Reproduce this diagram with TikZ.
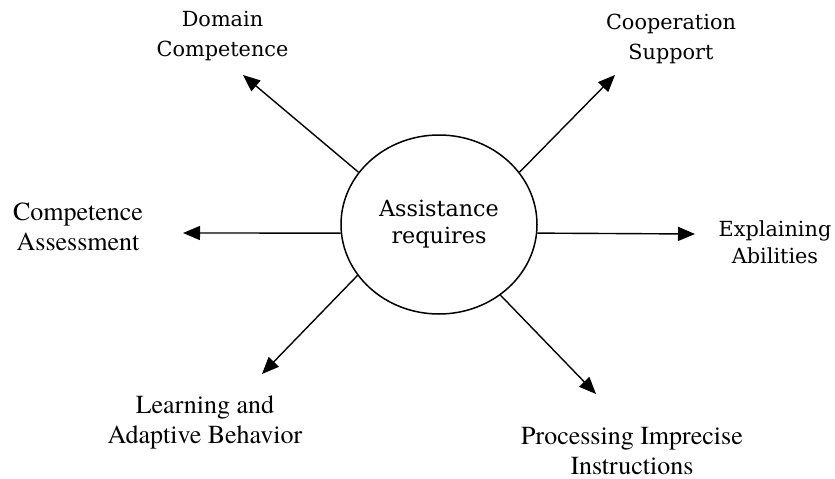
\documentclass[tikz,border=0pt]{standalone}
\usepackage{fontspec}
\newfontfamily\timesfont{texgyretermes-regular.otf}
\newfontfamily\slabfont{DejaVu Serif}
\usetikzlibrary{arrows.meta,shapes.geometric}
\begin{document}
\begin{tikzpicture}[x=1pt,y=-1pt,
  hub/.style={draw, ellipse, line width=1.5pt, inner sep=0pt,
    minimum width=196pt, minimum height=179pt, align=center,
    font=\slabfont\fontsize{22.3}{27}\selectfont},
  ray/.style={line width=1.4pt, -{Triangle[length=17pt,width=14pt]}},
  booklabel/.style={align=center, anchor=base, inner sep=0pt,
    font=\slabfont\fontsize{20.8}{30}\selectfont},
  timeslabel/.style={align=center, anchor=base, inner sep=0pt,
    font=\timesfont\fontsize{26}{30}\selectfont}]
  \fill[white] (0,0) rectangle (835,479);
  \useasboundingbox (0,0) rectangle (835,479);

  % central requirement
  \node[hub] (hub) at (439,224.5) {Assistance\\requires};

  % arrow tips
  \coordinate (domTip)  at (243,75);
  \coordinate (coopTip) at (615,75);
  \coordinate (compTip) at (183,233);
  \coordinate (explTip) at (695,234);
  \coordinate (learnTip) at (262,374);
  \coordinate (procTip) at (596,394);

  % labels (anchored on the last line's baseline)
  \node[booklabel] (dom)  at (222.5,56) {Domain\\Competence};
  \node[booklabel] (coop) at (671,59)   {Cooperation\\Support};
  \node[booklabel, font=\slabfont\fontsize{20.8}{27}\selectfont] (expl) at (775,263) {Explaining\\Abilities};
  \node[timeslabel] (comp)  at (78,250)  {Competence\\Assessment};
  \node[timeslabel] (learn) at (205,443) {Learning and\\Adaptive Behavior};
  \node[timeslabel] (proc)  at (632,474) {Processing Imprecise\\Instructions};

  % connectors
  \draw[ray] (hub.147.6) -- (domTip);
  \draw[ray] (hub.33.1)  -- (coopTip);
  \draw[ray] (hub.185)   -- (compTip);
  \draw[ray] (hub.-5.5)  -- (explTip);
  \draw[ray] (hub.212.6) -- (learnTip);
  \draw[ray] (hub.-49.6) -- (procTip);
\end{tikzpicture}
\end{document}
